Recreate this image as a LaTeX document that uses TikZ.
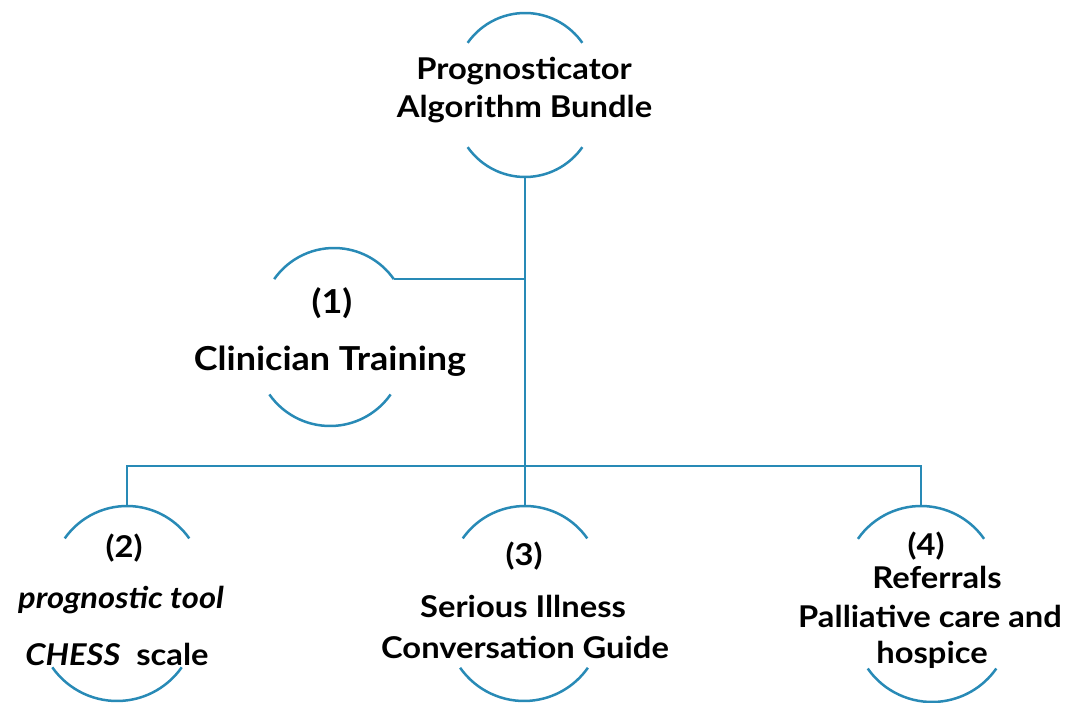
\documentclass[tikz,border=0pt]{standalone}
\usepackage{fontspec}
\setmainfont{Lato}[FakeStretch=1.09]
\begin{document}
\begin{tikzpicture}[x=1pt,y=1pt,
  wire/.style={draw=linkblue,line width=2.5pt},
  txt/.style={inner sep=0pt,anchor=base,font=\fontsize{30}{36}\selectfont\bfseries},
  bigtxt/.style={txt,font=\fontsize{33}{39}\selectfont\bfseries},
]
\definecolor{linkblue}{RGB}{40,138,182}
\useasboundingbox (0,0) rectangle (1067,702);

% arc above a label: #1 = apex coordinate, #2 = radius
\newcommand\caparc[2]{\draw[wire] ([shift={(145:#2)}]#1) ++(0,-#2) arc[start angle=145,end angle=35,radius=#2];}
% arc below a label: #1 = apex coordinate, #2 = radius
\newcommand\cuparc[2]{\draw[wire] ([shift={(215:#2)}]#1) ++(0,#2) arc[start angle=215,end angle=325,radius=#2];}

% apex points of the arcs
\coordinate (topT) at (525,689);
\coordinate (topB) at (525,525);
\coordinate (n1T) at (334,454);
\coordinate (n1B) at (330,276);
\coordinate (n2T) at (127,196);
\coordinate (n2B) at (117,1);
\coordinate (n3T) at (525,196);
\coordinate (n3B) at (524,1);
\coordinate (n4T) at (921,196);
\coordinate (n4B) at (932,0);
\coordinate (n1R) at (394,423);
\coordinate (bus) at (525,236);

% labels
\node[txt] (topA) at (524,622) {Prognosticator};
\node[txt] (topC) at (524.5,584) {Algorithm Bundle};

\node[bigtxt] (n1num) at (332,388) {(1)};
\node[bigtxt] (n1txt) at (330,331) {Clinician Training};

\node[txt] (n2num) at (124,145) {(2)};
\node[txt] (n2a) at (121,94) {\itshape prognostic tool};
\node[txt] (n2b) at (117,37) {\textit{CHESS}\ \ scale};

\node[txt] (n3num) at (524,137) {(3)};
\node[txt] (n3a) at (523,85) {Serious Illness};
\node[txt] (n3b) at (525,44) {Conversation Guide};

\node[txt] (n4num) at (926,147) {(4)};
\node[txt] (n4a) at (937,114) {Referrals};
\node[txt] (n4b) at (930,75) {Palliative care and};
\node[txt] (n4c) at (932,39) {hospice};

% arcs framing each block
\caparc{topT}{70}
\cuparc{topB}{70}
\caparc{n1T}{73}
\cuparc{n1B}{74}
\caparc{n2T}{76}
\cuparc{n2B}{79}
\caparc{n3T}{76}
\cuparc{n3B}{78}
\caparc{n4T}{77}
\cuparc{n4B}{78.5}

% connectors
\draw[wire] (topB) -- (n3T);
\draw[wire] (n1R) -- (n1R -| topB);
\draw[wire] (n2T) -- (n2T |- bus) -- (n4T |- bus) -- (n4T);
\end{tikzpicture}
\end{document}
